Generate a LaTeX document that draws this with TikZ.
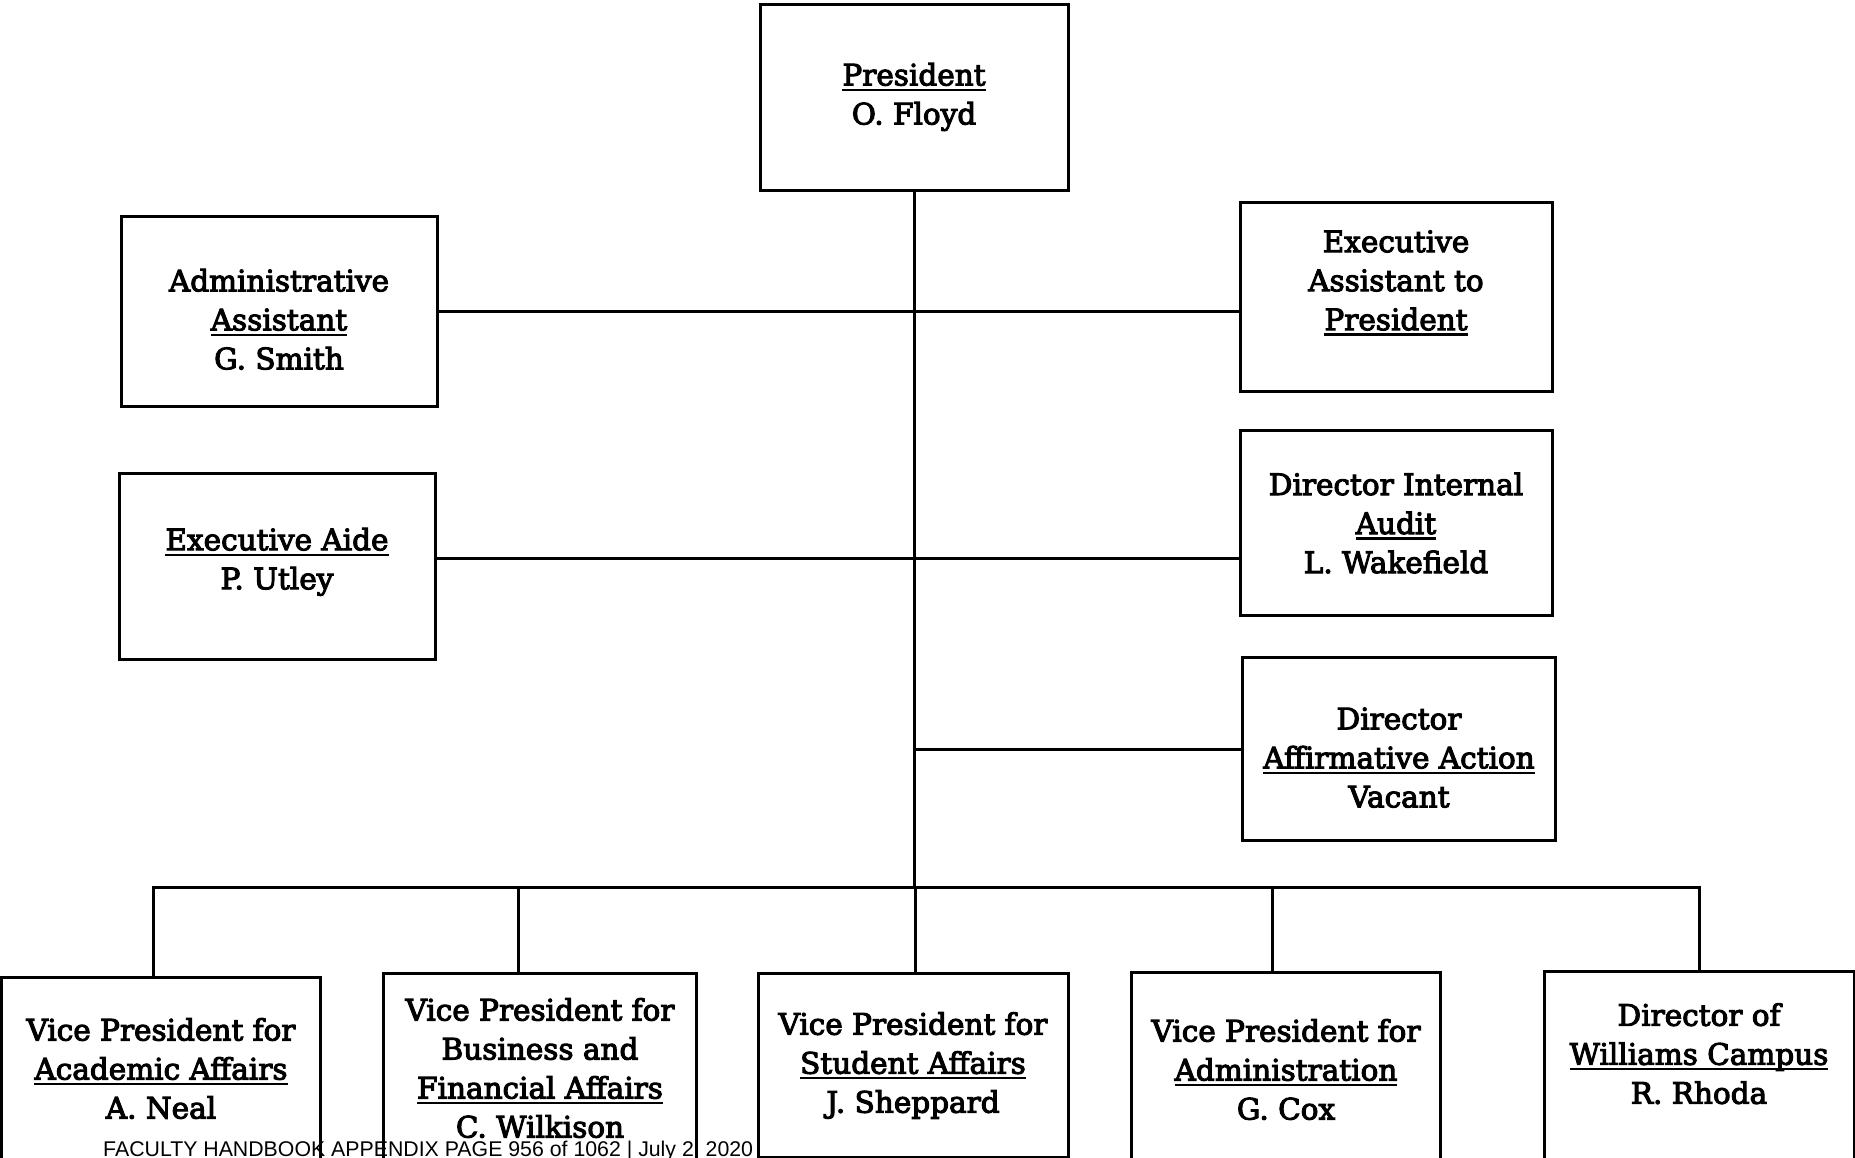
\documentclass[tikz,border=0pt]{standalone}
\usepackage{fontspec}
\setmainfont{DejaVu Serif}[FakeBold=3.5]
\newfontfamily\footfont{Liberation Sans}
\usetikzlibrary{positioning,calc}
\newcommand{\ulw}[1]{\setbox0=\hbox{#1}\rlap{\rule[-5.5pt]{\wd0}{2.2pt}}\box0}

\begin{document}
\begin{tikzpicture}[
  x=1pt, y=-1pt,
  font=\fontsize{29.5}{39}\selectfont,
  post/.style={draw=black, line width=3pt, align=center, inner sep=0pt},
  vp/.style={post, anchor=north},
  link/.style={draw=black, line width=3pt},
  foot/.style={font=\footfont\fontsize{21.3}{24}\selectfont, anchor=base west, inner sep=1pt},
]
\useasboundingbox (0,0) rectangle (1855,1157);
\fill[white] (0,0) rectangle (1855,1157);

% President
\node[post, minimum width=308pt, minimum height=186pt] (pres) at (914,97) {\ulw{President}\\O. Floyd};

% Staff on the left
\node[post, minimum width=316pt, minimum height=190pt, text height=117pt] (adm) at (279,311) {Administrative\\\ulw{Assistant}\\G. Smith};
\node[post, minimum width=316pt, minimum height=186pt, text depth=15pt] (aide) at (277,566) {\ulw{Executive Aide}\\P. Utley};

% Staff on the right
\node[post, minimum width=312pt, minimum height=189pt, text depth=33.5pt] (exa) at (1396,297) {Executive\\Assistant to\\\ulw{President}};
\node[post, minimum width=312pt, minimum height=185pt] (aud) at (1396,523) {Director Internal\\\ulw{Audit}\\L. Wakefield};
\node[post, minimum width=313pt, minimum height=183pt, text height=117pt] (aff) at (1399,749) {Director\\\ulw{Affirmative Action}\\Vacant};

% Vice presidents
\node[vp, minimum width=319pt, minimum height=182pt] (vp1) at (161,976) {Vice President for\\\ulw{Academic Affairs}\\A. Neal};
\node[vp, minimum width=313pt, minimum height=189pt] (vp2) at (540,972) {Vice President for\\Business and\\\ulw{Financial Affairs}\\C. Wilkison};
\node[vp, minimum width=310pt, minimum height=184pt] (vp3) at (913,972) {Vice President for\\\ulw{Student Affairs}\\J. Sheppard};
\node[vp, minimum width=309pt, minimum height=194pt] (vp4) at (1286,971) {Vice President for\\\ulw{Administration}\\G. Cox};
\node[vp, minimum width=310pt, minimum height=190pt, text depth=26pt] (vp5) at (1699,970) {Director of\\\ulw{Williams Campus}\\R. Rhoda};

% Lines
\coordinate (bus) at (915,887);
\draw[link] (pres.south) -- (pres.south |- bus);
\draw[link] (adm.east) -- (adm.east -| exa.west);
\draw[link] ([yshift=8pt]aide.east) -- ([yshift=8pt]aide.east -| aud.west);
\draw[link] (aff.west) -- (aff.west -| pres.south);
\draw[link] ([xshift=-8pt]vp1.north) |- (bus) -| (vp5.north);
\foreach \v/\dx in {vp2/-22, vp3/2, vp4/-14}
  \draw[link] ([xshift=\dx pt]\v.north) -- ([xshift=\dx pt]\v.north |- bus);

% Footer
\node[foot] (note) at (102,1156) {FACULTY HANDBOOK APPENDIX PAGE 956 of 1062 | July 2, 2020};

\end{tikzpicture}
\end{document}
